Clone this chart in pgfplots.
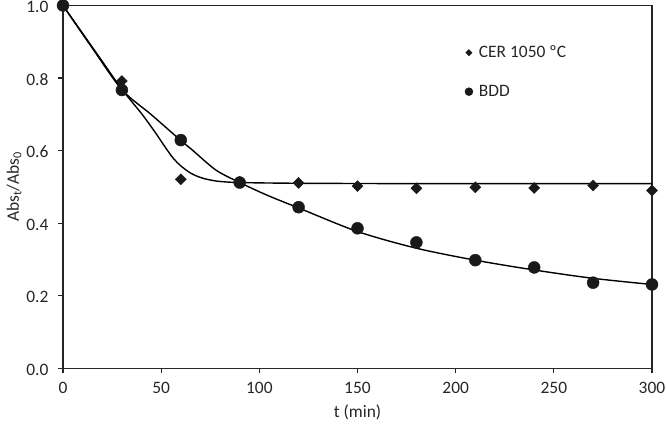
\documentclass[border=0pt]{standalone}
\usepackage{pgfplots}
\pgfplotsset{compat=1.18}
\usepackage{fontspec}
\setmainfont{Carlito}
\begin{document}
\begin{tikzpicture}
\useasboundingbox (-63bp,-59.7bp) rectangle (603bp,368.3bp);
\begin{axis}[
  at={(0,0)}, anchor=south west,
  scale only axis, width=589bp, height=362.8bp,
  xmin=0, xmax=300, ymin=0, ymax=1.0,
  xtick={0,50,...,300}, ytick={0,0.2,0.4,0.6,0.8,1.0},
  yticklabel style={/pgf/number format/fixed, /pgf/number format/fixed zerofill, /pgf/number format/precision=1},
  /pgf/number format/assume math mode=true,
  tick align=outside, xtick pos=left, ytick pos=left,
  major tick length=5bp,
  axis line style={line width=1.2bp, draw=black!85},
  every tick/.style={line width=1.2bp, black!85},
  tick label style={font=\fontsize{17.5}{20}\selectfont, black!85},
  xticklabel style={yshift=-5bp},
  yticklabel style={xshift=-6bp, yshift=-1.5bp},
  label style={font=\fontsize{17.5}{20}\selectfont, black!85},
  xlabel={t (min)}, ylabel={Abs\textsubscript{t}/Abs\textsubscript{0}},
  xlabel style={yshift=-5bp},
  ylabel style={yshift=-2bp},
  legend style={draw=none, fill=none, at={(0.677,0.9)}, anchor=north west,
    font=\fontsize{17.5}{20}\selectfont, row sep=22bp,
    legend cell align=left, text=black!85,
    /tikz/every odd column/.append style={column sep=4bp}},
]
% fitted curves
\addplot[black, line width=1.4bp, smooth, tension=0.5, forget plot] coordinates {
(0,1.0) (10,0.923) (20,0.846) (30,0.769) (40,0.702) (47,0.650) (52,0.610) (56,0.580)
(60,0.558) (65,0.538) (70,0.526) (75,0.519) (80,0.515) (90,0.512) (120,0.510) (180,0.509) (240,0.509) (300,0.509)};
\addplot[black, line width=1.4bp, smooth, tension=0.5, forget plot] coordinates {
(0,1.0) (15,0.882) (30,0.768) (45,0.699) (60,0.628) (66,0.601) (78,0.546) (90,0.512)
(104,0.477) (120,0.442) (150,0.377) (180,0.331) (210,0.298) (240,0.271) (270,0.248) (300,0.231)};
% data markers
\addplot[only marks, mark=square*, mark options={rotate=45}, mark size=3.9bp, black!90, fill=black!90,
  legend image code/.code={\draw[black!90, fill=black!90] plot[mark=square*, mark options={rotate=45}, mark size=2.2bp] coordinates {(0.3cm,0cm)};}]
coordinates {(0,1.0) (30,0.792) (60,0.521) (90,0.514) (120,0.511) (150,0.502)
(180,0.496) (210,0.499) (240,0.497) (270,0.504) (300,0.490)};
\addlegendentry{CER 1050 ºC}
\addplot[only marks, mark=*, mark size=6bp, black!90, fill=black!90,
  legend image code/.code={\draw[black!90, fill=black!90] plot[mark=*, mark size=4bp] coordinates {(0.3cm,0cm)};}]
coordinates {(0,1.0) (30,0.767) (60,0.629) (90,0.512) (120,0.444) (150,0.386)
(180,0.347) (210,0.298) (240,0.278) (270,0.236) (300,0.231)};
\addlegendentry{BDD}
\end{axis}
\end{tikzpicture}
\end{document}
